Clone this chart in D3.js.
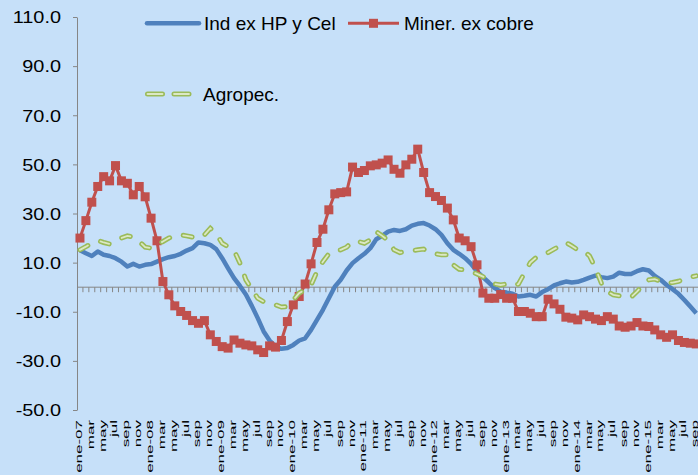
<!DOCTYPE html>
<html>
<head>
<meta charset="utf-8">
<script src="https://cdn.jsdelivr.net/npm/d3@7"></script>
<style>
  body { margin: 0; background: #c6e0f9; }
  text { font-family: Arial, "Liberation Sans", sans-serif; fill: #000; }
</style>
</head>
<body>
<script>
// monthly series, ene-07 .. sep-15
var meses = ["ene","feb","mar","abr","may","jun","jul","ago","sep","oct","nov","dic"];
var anioInicio = 7;

var indExHP = [15, 13.8, 12.7, 14.5, 13.2, 12.7, 11.8, 10.4, 8.4, 9.5, 8.4, 9.1,
  9.4, 10.4, 11.4, 12.2, 12.7, 13.6, 14.9, 15.9, 18.2, 17.9, 17.2, 15.5,
  11.8, 7.7, 3.7, 0.5, -3, -7.6, -12.6, -18, -21.7, -24.2, -25.1, -24.8,
  -23.5, -21.7, -20.8, -17.4, -13.3, -9.2, -4.5, 0.2, 3.0, 6.8, 9.8, 11.8,
  13.6, 15.9, 19.5, 20.9, 22.6, 23.3, 22.9, 23.6, 25.1, 25.8, 26.1, 25.1,
  23.6, 21.3, 17.9, 15.2, 13.6, 11.8, 9.5, 6.4, 4.1, 1.9, -0.4, -1.8,
  -2.2, -2.7, -3.8, -3.5, -3.1, -3.8, -2, -0.8, 0.7, 1.6, 2.3, 1.9,
  2.2, 3.0, 3.9, 4.7, 4.1, 3.7, 4.3, 5.9, 5.4, 5.4, 6.5, 7.3,
  6.8, 4.6, 3.0, 0.9, -0.8, -2.7, -5.2, -7.9, -10.6];

var minerExCobre = [20.0, 27.1, 34.6, 41.0, 45.0, 43.3, 49.5, 43.3, 42.3, 37.6, 41.0, 36.8,
  28.1, 18.9, 2.3, -3.1, -7.6, -9.9, -11.5, -13.6, -14.7, -13.6, -19.4, -22.1,
  -24.2, -24.8, -21.5, -22.8, -23.5, -23.9, -25.5, -26.6, -23.9, -24.4, -21.7, -14.0,
  -7.2, -3.8, 1.3, 9.5, 18.2, 23.6, 31.5, 38.0, 38.5, 38.8, 48.9, 46.7,
  47.5, 49.4, 49.8, 50.5, 51.8, 48.0, 46.4, 49.8, 52.1, 56.2, 46.7, 38.5,
  36.9, 35.3, 32.2, 27.4, 20.0, 18.9, 16.5, 9.1, -2.4, -4.5, -4.5, -3,
  -4.5, -4.5, -9.9, -9.9, -10.6, -12.0, -12.0, -4.9, -6.8, -9.0, -12.2, -12.6,
  -13.3, -11.3, -12.0, -13.0, -13.6, -12.0, -13.0, -15.8, -16.3, -15.8, -14.4, -15.8,
  -16.0, -17.4, -19.4, -20.4, -19.4, -21.7, -22.5, -22.8, -23.1];

var agropec = [15.2, 16.5, 17.9, 19, 18.2, 17.6, 19, 20, 20.9, 20.4, 18.6, 16.3,
  15.9, 17.2, 18.6, 20, 20.9, 21.3, 20.9, 20.4, 20, 21.3, 24, 21.7,
  17.9, 16.5, 15, 9.8, 3, -0.8, -4.5, -5.9, -6.5, -7.2, -8.1, -7.9,
  -5.2, -2.4, -1.1, 0.9, 6.4, 10.4, 13.6, 14.9, 15.2, 16.3, 18.6, 18.6,
  17.9, 19.3, 22.6, 20.9, 19, 15.2, 14.1, 14.5, 14.9, 15.2, 15.5, 14.1,
  13.6, 13.2, 13.2, 9.1, 7.3, 7.0, 6.4, 5.4, 4.3, 3.0, 1.3, 0.9,
  1.3, 0.5, 1.3, 5.7, 10, 12.1, 13, 14.1, 15.5, 16.8, 18.2, 16.8,
  15.2, 14.9, 12.7, 7.7, 1.6, -1.8, -3.1, -3.5, -3.8, -4.1, -1.8, 0.9,
  3.0, 3.3, 2.3, 1.6, 1.9, 2.4, 3.3, 4.1, 4.6];

var yTicks = [-50, -30, -10, 10, 30, 50, 70, 90, 110];

var categorias = indExHP.map(function(d, i) {
  var m = i % 12;
  return m == 0 ? meses[m] + "-" + String(anioInicio + Math.floor(i / 12)).padStart(2, "0") : meses[m];
});

var width = 698, height = 475;
var azul = "#4f81bd", rojo = "#c0504d", verde = "#9bbb59", verdeClaro = "#dbe8c4", gris = "#868686";

var svg = d3.select("body").append("svg")
    .attr("width", width)
    .attr("height", height);

svg.append("rect").attr("width", width).attr("height", height).attr("fill", "#c6e0f9");

var x = d3.scaleBand()
    .domain(d3.range(categorias.length))
    .range([77, 699.2]);

var y = d3.scaleLinear()
    .domain([-50, 110])
    .range([410, 17]);

var cx = function(i) { return x(i) + x.bandwidth() / 2; };

// y axis
var yAxis = svg.append("g")
    .attr("transform", "translate(77,0)")
    .call(d3.axisLeft(y).tickValues(yTicks).tickSize(4).tickSizeOuter(0).tickPadding(12)
      .tickFormat(function(d) { return d.toFixed(1); }));
yAxis.select(".domain").attr("stroke", gris);
yAxis.selectAll(".tick line").attr("stroke", gris);
yAxis.selectAll(".tick text")
    .attr("font-size", 17)
    .attr("font-family", "Arial, 'Liberation Sans', sans-serif")
    .attr("fill", "#000")
    .attr("dy", "0.34em")
    .each(function() {
      var w = this.getComputedTextLength();
      d3.select(this).attr("textLength", w * 1.17).attr("lengthAdjust", "spacingAndGlyphs");
    });

// horizontal axis crossing at 0
var x0 = svg.append("g").attr("transform", "translate(0," + y(0) + ")");
x0.append("line")
    .attr("x1", x.range()[0]).attr("x2", x.range()[1])
    .attr("stroke", gris).attr("stroke-width", 1);
x0.selectAll(".tk")
    .data(d3.range(1, categorias.length + 1))
    .enter().append("line")
    .attr("x1", function(i) { return x.range()[0] + i * x.step(); })
    .attr("x2", function(i) { return x.range()[0] + i * x.step(); })
    .attr("y1", 0).attr("y2", 5)
    .attr("stroke", gris);

// category labels, every other month, rotated
svg.append("g").selectAll("text")
    .data(categorias.map(function(c, i) { return {c: c, i: i}; }).filter(function(d) { return d.i % 2 == 0; }))
    .enter().append("text")
    .attr("transform", function(d) { return "translate(" + cx(d.i) + ",420) rotate(-90) scale(1,0.58)"; })
    .attr("text-anchor", "end")
    .attr("dy", "0.2em")
    .attr("font-size", 17)
    .text(function(d) { return d.c; });

// series
var line = d3.line()
    .x(function(d, i) { return cx(i); })
    .y(function(d) { return y(d); });

svg.append("path")
    .datum(indExHP)
    .attr("d", line)
    .attr("fill", "none")
    .attr("stroke", azul)
    .attr("stroke-width", 4.5)
    .attr("stroke-linejoin", "round");

svg.append("path")
    .datum(minerExCobre)
    .attr("d", line)
    .attr("fill", "none")
    .attr("stroke", rojo)
    .attr("stroke-width", 3);

svg.append("g").selectAll("rect")
    .data(minerExCobre)
    .enter().append("rect")
    .attr("x", function(d, i) { return cx(i) - 4.5; })
    .attr("y", function(d) { return y(d) - 4.5; })
    .attr("width", 9).attr("height", 9)
    .attr("fill", rojo);

svg.append("path")
    .datum(agropec)
    .attr("d", line)
    .attr("fill", "none")
    .attr("stroke", verde)
    .attr("stroke-width", 5)
    .attr("stroke-linecap", "round")
    .attr("stroke-dasharray", "9,14");

svg.append("path")
    .datum(agropec)
    .attr("d", line)
    .attr("fill", "none")
    .attr("stroke", verdeClaro)
    .attr("stroke-width", 1.8)
    .attr("stroke-linecap", "round")
    .attr("stroke-dasharray", "9,14");

// legend
var leg = svg.append("g").attr("font-size", 19);

leg.append("line").attr("x1", 147).attr("x2", 199).attr("y1", 23.3).attr("y2", 23.3)
    .attr("stroke", azul).attr("stroke-width", 4.5).attr("stroke-linecap", "round");
leg.append("text").attr("x", 204).attr("y", 30).text("Ind ex HP y Cel");

leg.append("line").attr("x1", 348).attr("x2", 399).attr("y1", 23.3).attr("y2", 23.3)
    .attr("stroke", rojo).attr("stroke-width", 3);
leg.append("rect").attr("x", 369).attr("y", 18.8).attr("width", 9).attr("height", 9).attr("fill", rojo);
leg.append("text").attr("x", 404).attr("y", 30).text("Miner. ex cobre");

leg.append("line").attr("x1", 147.5).attr("x2", 189).attr("y1", 94).attr("y2", 94)
    .attr("stroke", verde).attr("stroke-width", 5).attr("stroke-linecap", "round")
    .attr("stroke-dasharray", "15,11.5");
leg.append("line").attr("x1", 147.5).attr("x2", 189).attr("y1", 94).attr("y2", 94)
    .attr("stroke", verdeClaro).attr("stroke-width", 1.8).attr("stroke-linecap", "round")
    .attr("stroke-dasharray", "15,11.5");
leg.append("text").attr("x", 203).attr("y", 100.5).text("Agropec.");
</script>
</body>
</html>
